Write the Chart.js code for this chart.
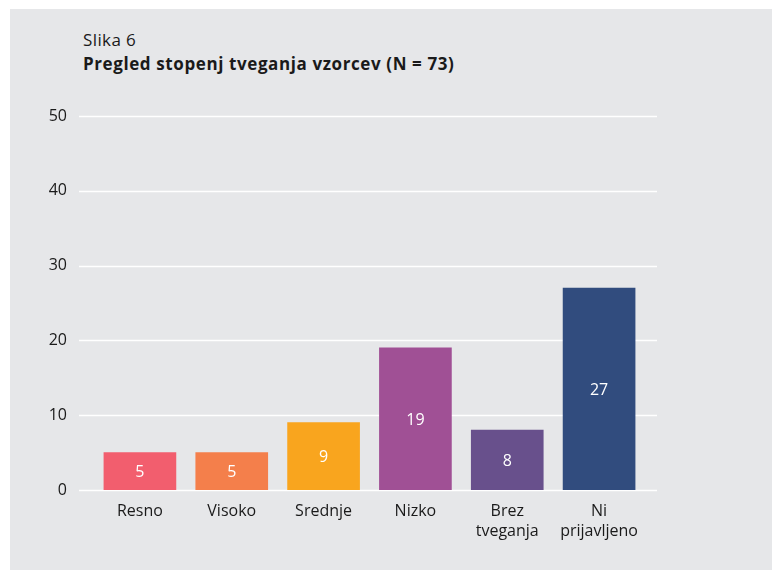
<!DOCTYPE html>
<html>
<head>
<meta charset="utf-8">
<script src="https://cdn.jsdelivr.net/npm/chart.js@4.4.1/dist/chart.umd.min.js"></script>
<style>
  body { margin: 0; background: #fff; font-family: "Open Sans", "Noto Sans", sans-serif; }
  #wrap { position: relative; width: 774px; height: 573px; }
  #panel { position: absolute; left: 10px; top: 9px; width: 762px; height: 561px; background: #e6e7e9; }
  #chart { position: absolute; left: 0; top: 0; }
  .t1, .t2 { position: absolute; left: 83px; color: #1a1a1a; font-size: 17px; white-space: nowrap; }
  .t1 { top: 28px; letter-spacing: 0.4px; }
  .t2 { top: 52px; font-weight: bold; letter-spacing: 0.6px; }
</style>
</head>
<body>
<div id="wrap">
  <div id="panel"></div>
  <div class="t1">Slika 6</div>
  <div class="t2">Pregled stopenj tveganja vzorcev (N = 73)</div>
  <canvas id="chart" width="774" height="573"></canvas>
</div>
<script>
// data
const categories = ['Resno', 'Visoko', 'Srednje', 'Nizko', ['Brez', 'tveganja'], ['Ni', 'prijavljeno']];
const counts = [5, 5, 9, 19, 8, 27];
const barColors = ['#f25e6e', '#f47f4b', '#f9a51e', '#a05095', '#68508c', '#314c7e'];
const yTicks = [0, 10, 20, 30, 40, 50];

// white gridlines, a bit wider than the bar area
const gridPlugin = {
  id: 'wideGrid',
  beforeDatasetsDraw(chart) {
    const ctx = chart.ctx;
    const y = chart.scales.y;
    ctx.save();
    ctx.strokeStyle = '#ffffff';
    ctx.lineWidth = 1.5;
    yTicks.forEach(v => {
      const py = Math.round(y.getPixelForValue(v)) + 0.5;
      ctx.beginPath();
      ctx.moveTo(79, py);
      ctx.lineTo(657, py);
      ctx.stroke();
    });
    ctx.restore();
  }
};

// values written inside the bars
const valuePlugin = {
  id: 'barValues',
  afterDatasetsDraw(chart) {
    const ctx = chart.ctx;
    const meta = chart.getDatasetMeta(0);
    ctx.save();
    ctx.fillStyle = '#ffffff';
    ctx.font = '16px "Open Sans", "Noto Sans", sans-serif';
    ctx.textAlign = 'center';
    ctx.textBaseline = 'middle';
    meta.data.forEach((bar, i) => {
      ctx.fillText(String(counts[i]), bar.x, (bar.y + bar.base) / 2 + 1);
    });
    ctx.restore();
  }
};

const ctx = document.getElementById('chart').getContext('2d');
const riskChart = new Chart(ctx, {
  type: 'bar',
  data: {
    labels: categories,
    datasets: [{
      data: counts,
      backgroundColor: barColors,
      borderWidth: 0,
      barThickness: 72
    }]
  },
  options: {
    responsive: false,
    animation: false,
    layout: { padding: { top: 116, right: 129, left: 0, bottom: 0 } },
    plugins: {
      legend: { display: false },
      tooltip: { enabled: false }
    },
    scales: {
      x: {
        grid: { display: false, drawTicks: false },
        border: { display: false },
        ticks: {
          color: '#1a1a1a',
          padding: 11,
          maxRotation: 0,
          font: { family: '"Open Sans", "Noto Sans", sans-serif', size: 16, lineHeight: 1.25 }
        },
        afterFit: s => { s.height = 83; }
      },
      y: {
        min: 0,
        max: 50,
        grid: { display: false, drawTicks: false },
        border: { display: false },
        afterBuildTicks: s => { s.ticks = yTicks.map(v => ({ value: v })); },
        ticks: {
          color: '#1a1a1a',
          padding: 27,
          font: { family: '"Open Sans", "Noto Sans", sans-serif', size: 16 }
        },
        afterFit: s => { s.width = 94; }
      }
    }
  },
  plugins: [gridPlugin, valuePlugin]
});
</script>
</body>
</html>
